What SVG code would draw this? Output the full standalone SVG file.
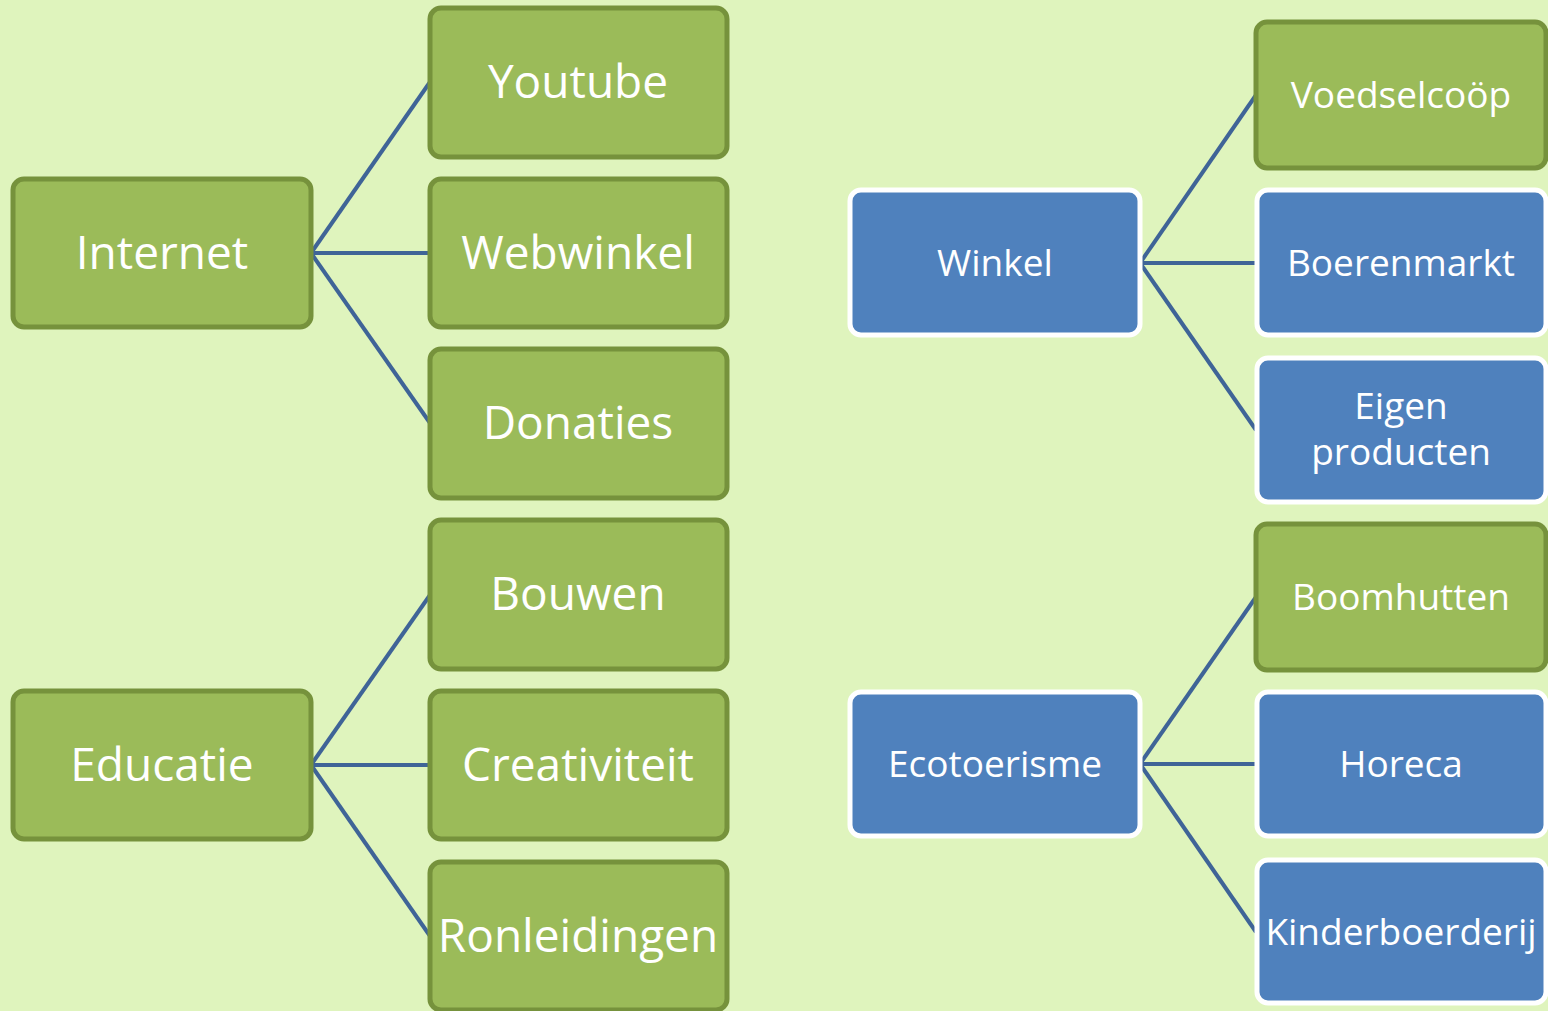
<svg xmlns="http://www.w3.org/2000/svg" width="1548" height="1011" viewBox="0 0 1548 1011">
<style>
.g rect{fill:#9bbb59;stroke:#76923c;stroke-width:5}
.b rect{fill:#4f81bd;stroke:#ffffff;stroke-width:5}
text{font-family:"Open Sans","Noto Sans",sans-serif;fill:#ffffff;text-anchor:middle}
.L text{font-size:46px}
.R text{font-size:37px}
#connectors line{stroke:#3f6497;stroke-width:4}
</style>
<rect x="0" y="0" width="1548" height="1011" fill="#dff4bd"/>
<g id="connectors">
<line x1="311" y1="253" x2="430" y2="82"/>
<line x1="311" y1="253" x2="430" y2="253"/>
<line x1="311" y1="253" x2="430" y2="423"/>
<line x1="311" y1="765" x2="430" y2="595"/>
<line x1="311" y1="765" x2="430" y2="765"/>
<line x1="311" y1="765" x2="430" y2="936"/>
<line x1="1140" y1="263" x2="1256" y2="95"/>
<line x1="1140" y1="263" x2="1256" y2="263"/>
<line x1="1140" y1="263" x2="1256" y2="430"/>
<line x1="1140" y1="764" x2="1256" y2="597"/>
<line x1="1140" y1="764" x2="1256" y2="764"/>
<line x1="1140" y1="764" x2="1256" y2="932"/>
</g>
<g class="L">
<g id="internet" class="g"><rect x="13" y="179" width="298" height="148" rx="11"/><text x="162" y="269">Internet</text></g>
<g id="youtube" class="g"><rect x="430" y="8" width="297" height="149" rx="11"/><text x="578" y="98">Youtube</text></g>
<g id="webwinkel" class="g"><rect x="430" y="179" width="297" height="148" rx="11"/><text x="578" y="269">Webwinkel</text></g>
<g id="donaties" class="g"><rect x="430" y="349" width="297" height="149" rx="11"/><text x="578" y="439">Donaties</text></g>
<g id="educatie" class="g"><rect x="13" y="691" width="298" height="148" rx="11"/><text x="162" y="781">Educatie</text></g>
<g id="bouwen" class="g"><rect x="430" y="520" width="297" height="149" rx="11"/><text x="578" y="610">Bouwen</text></g>
<g id="creativiteit" class="g"><rect x="430" y="691" width="297" height="148" rx="11"/><text x="578" y="781">Creativiteit</text></g>
<g id="ronleidingen" class="g"><rect x="430" y="862" width="297" height="148" rx="11"/><text x="578" y="952">Ronleidingen</text></g>
</g>
<g class="R">
<g id="winkel" class="b"><rect x="850" y="190" width="290" height="145" rx="11"/><text x="995" y="276">Winkel</text></g>
<g id="voedselcoop" class="g"><rect x="1256" y="22" width="290" height="146" rx="11"/><text x="1401" y="108">Voedselcoöp</text></g>
<g id="boerenmarkt" class="b"><rect x="1257" y="190" width="289" height="145" rx="11"/><text x="1401" y="276">Boerenmarkt</text></g>
<g id="eigenproducten" class="b"><rect x="1257" y="358" width="289" height="144" rx="11"/><text x="1401" y="419">Eigen</text><text x="1401" y="465">producten</text></g>
<g id="ecotoerisme" class="b"><rect x="850" y="692" width="290" height="144" rx="11"/><text x="995" y="777">Ecotoerisme</text></g>
<g id="boomhutten" class="g"><rect x="1256" y="524" width="290" height="146" rx="11"/><text x="1401" y="610">Boomhutten</text></g>
<g id="horeca" class="b"><rect x="1257" y="692" width="289" height="144" rx="11"/><text x="1401" y="777">Horeca</text></g>
<g id="kinderboerderij" class="b"><rect x="1257" y="860" width="289" height="143" rx="11"/><text x="1401" y="945">Kinderboerderij</text></g>
</g>
</svg>
